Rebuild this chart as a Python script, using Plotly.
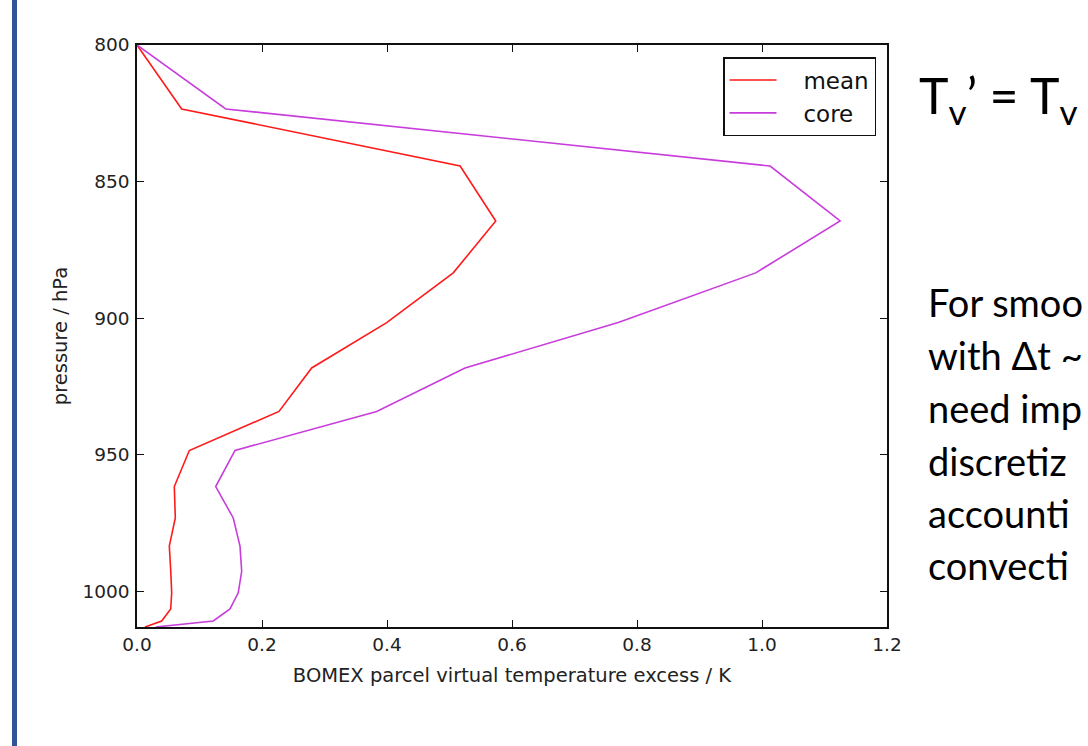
import plotly.graph_objects as go

# ---- data ----
pressure_mean = [800, 823.4, 844.3, 864.4, 883.4, 901.6, 918.2, 934.1, 948.4,
                 961.6, 973.1, 983.4, 992.6, 1000.5, 1006.4, 1010.8, 1013.0]
tv_mean = [0.0, 0.0715, 0.517, 0.574, 0.506, 0.3995, 0.2795, 0.2272, 0.0837,
           0.0597, 0.0613, 0.0517, 0.054, 0.0555, 0.0539, 0.0395, 0.0128]

pressure_core = [800, 823.4, 844.3, 864.4, 883.4, 901.6, 918.2, 934.1, 948.4,
                 961.6, 973.1, 983.4, 992.6, 1000.5, 1006.4, 1010.8, 1013.0]
tv_core = [0.0, 0.142, 1.013, 1.125, 0.990, 0.770, 0.5248, 0.3835, 0.1568,
           0.1259, 0.154, 0.1648, 0.1675, 0.162, 0.1488, 0.1221, 0.03]

x_ticks = [0.0, 0.2, 0.4, 0.6, 0.8, 1.0, 1.2]
y_ticks = [800, 850, 900, 950, 1000]

series_names = ["mean", "core"]
series_colors = ["#ff1a1a", "#c83cdc"]

x_title = "BOMEX parcel virtual temperature excess / K"
y_title = "pressure / hPa"
headline = "T<sub>v</sub>’ = T<sub>v</sub>"
body_lines = ["For smoo", "with Δt ~", "need imp", "discretiz", "accounti", "convecti"]

# ---- layout geometry (pixels) ----
W, H = 1088, 746
L, R, T, B = 137, 201, 45, 119
PW, PH = W - L - R, H - T - B


def xp(px):
    return (px - L) / PW


def yp(py):
    return (H - B - py) / PH


fig = go.Figure()
for name, xs, ys, col in zip(series_names, [tv_mean, tv_core],
                             [pressure_mean, pressure_core], series_colors):
    fig.add_trace(go.Scatter(x=xs, y=ys, mode="lines",
                             name="\u00a0\u00a0\u00a0" + name,
                             line=dict(color=col, width=1.6)))

axis_common = dict(
    showline=True, linecolor="#111111", linewidth=1.5, mirror="ticks",
    ticks="inside", ticklen=7, tickwidth=1.2, tickcolor="#111111",
    showgrid=False, zeroline=False,
    tickfont=dict(family="DejaVu Sans", size=18.5, color="#222222"),
    title_font=dict(family="DejaVu Sans", size=19.5, color="#222222"),
)

fig.update_xaxes(range=[0, 1.2], tickvals=x_ticks, tickformat=".1f",
                 title_text=x_title, title_standoff=14, ticklabelstandoff=0,
                 **axis_common)
fig.update_yaxes(range=[1013, 800], tickvals=y_ticks,
                 title_text=y_title, title_standoff=10, ticklabelstandoff=2,
                 **axis_common)

# blue slide bar on the left
fig.add_shape(type="rect", xref="paper", yref="paper",
              x0=xp(12), x1=xp(17), y0=yp(H + 2), y1=yp(-2),
              fillcolor="#2f5597", line=dict(width=0), layer="above")

fig.add_annotation(xref="paper", yref="paper", x=xp(917), y=yp(63),
                   xanchor="left", yanchor="top", showarrow=False,
                   text=headline, align="left",
                   font=dict(family="Lato", size=50, color="#000000"))

body_tops = [277, 330, 383, 436, 488, 540]
for line, top in zip(body_lines, body_tops):
    fig.add_annotation(xref="paper", yref="paper", x=xp(926), y=yp(top),
                       xanchor="left", yanchor="top", showarrow=False,
                       text=line, align="left",
                       font=dict(family="Lato", size=38, color="#000000"))

fig.update_layout(
    width=W, height=H,
    margin=dict(l=L, r=R, t=T, b=B, autoexpand=False),
    paper_bgcolor="white", plot_bgcolor="white",
    showlegend=True,
    legend=dict(x=xp(876), y=yp(57), xanchor="right", yanchor="top",
                bgcolor="white", bordercolor="#111111", borderwidth=1.5,
                font=dict(family="DejaVu Sans", size=23, color="#111111"),
                itemwidth=47, tracegroupgap=0),
)

fig.write_html("out.html")
